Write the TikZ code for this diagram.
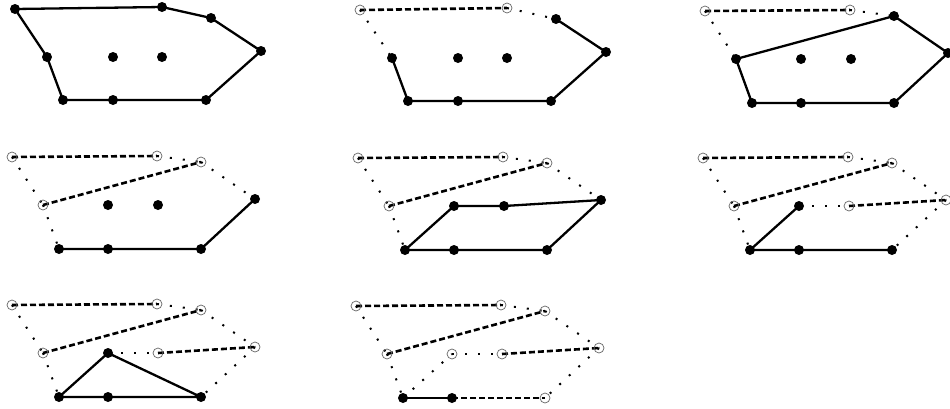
\documentclass[tikz,border=0pt]{standalone}
\begin{document}
\tikzset{
  pt/.style={circle,fill=black,inner sep=0pt,minimum size=10pt},
  opt/.style={circle,draw=black!60,line width=0.7pt,inner sep=0pt,minimum size=10pt},
  hull/.style={line width=2.3pt,line join=round},
  gone/.style={line width=2.6pt,dash pattern=on 6pt off 3pt},
  link/.style={line width=2pt,dash pattern=on 2pt off 11pt},
}
\newcommand\panelpts[4]{%
  \begin{scope}[shift={(#2,#3)}]
  \ifnum#4=1
    \coordinate (#1A) at (0,0);   \coordinate (#1B) at (147,-2);
    \coordinate (#1C) at (196,9); \coordinate (#1D) at (246,42);
    \coordinate (#1E) at (191,91);\coordinate (#1F) at (98,91);
    \coordinate (#1G) at (48,91); \coordinate (#1H) at (32,48);
    \coordinate (#1I) at (98,48); \coordinate (#1J) at (147,48);
  \else
    \coordinate (#1A) at (0,0);   \coordinate (#1B) at (145,-1);
    \coordinate (#1C) at (189,5); \coordinate (#1D) at (243,42);
    \coordinate (#1E) at (189,92);\coordinate (#1F) at (96,92);
    \coordinate (#1G) at (47,92); \coordinate (#1H) at (31,48);
    \coordinate (#1I) at (96,48); \coordinate (#1J) at (146,48);
  \fi
  \end{scope}}
\newcommand\filledpts[2]{\foreach \p in {#2}{\node[pt] (#1\p n) at (#1\p) {};}}
\newcommand\hollowpts[2]{\foreach \p in {#2}{\node[opt] (#1\p n) at (#1\p) {};}}
\begin{tikzpicture}[x=1pt,y=-1pt]
\useasboundingbox (0,0) rectangle (950,408);
\panelpts{a}{15}{9}{1}
\panelpts{b}{360}{10}{1}
\panelpts{c}{705}{11}{2}
\panelpts{d}{12}{157}{2}
\panelpts{e}{358}{158}{2}
\panelpts{f}{703}{158}{2}
\panelpts{g}{12}{305}{2}
\panelpts{h}{356}{306}{2}
% panel 1
\draw[hull] (aA) -- (aB) -- (aC) -- (aD) -- (aE) -- (aF) -- (aG) -- (aH) -- cycle;
\filledpts{a}{A,B,C,D,E,F,G,H,I,J}
% panel 2
\draw[gone] (bA) -- (bB);
\draw[link] (bB) -- (bC);
\draw[link] (bA) -- (bH);
\draw[hull] (bC) -- (bD) -- (bE) -- (bF) -- (bG) -- (bH);
\hollowpts{b}{A,B}
\filledpts{b}{C,D,E,F,G,H,I,J}
% panel 3
\draw[gone] (cA) -- (cB);
\draw[link] (cB) -- (cC);
\draw[link] (cA) -- (cH);
\draw[hull] (cH) -- (cC) -- (cD) -- (cE) -- (cF) -- (cG) -- cycle;
\hollowpts{c}{A,B}
\filledpts{c}{C,D,E,F,G,H,I,J}
% panel 4
\draw[gone] (dA) -- (dB);
\draw[gone] (dH) -- (dC);
\draw[link] (dA) -- (dH);
\draw[link] (dB) -- (dC);
\draw[link] (dH) -- (dG);
\draw[link] (dC) -- (dD);
\draw[hull] (dD) -- (dE) -- (dF) -- (dG);
\hollowpts{d}{A,B,C,H}
\filledpts{d}{D,E,F,G,I,J}
% panel 5
\draw[gone] (eA) -- (eB);
\draw[gone] (eH) -- (eC);
\draw[link] (eA) -- (eH);
\draw[link] (eB) -- (eC);
\draw[link] (eH) -- (eG);
\draw[link] (eC) -- (eD);
\draw[hull] (eG) -- (eI) -- (eJ) -- (eD) -- (eE) -- (eF) -- cycle;
\hollowpts{e}{A,B,C,H}
\filledpts{e}{D,E,F,G,I,J}
% panel 6
\draw[gone] (fA) -- (fB);
\draw[gone] (fH) -- (fC);
\draw[gone] (fJ) -- (fD);
\draw[link] (fA) -- (fH);
\draw[link] (fB) -- (fC);
\draw[link] (fH) -- (fG);
\draw[link] (fC) -- (fD);
\draw[link] (fI) -- (fJ);
\draw[link] (fD) -- (fE);
\draw[hull] (fI) -- (fG) -- (fF) -- (fE);
\hollowpts{f}{A,B,C,H,J,D}
\filledpts{f}{E,F,G,I}
% panel 7
\draw[gone] (gA) -- (gB);
\draw[gone] (gH) -- (gC);
\draw[gone] (gJ) -- (gD);
\draw[link] (gA) -- (gH);
\draw[link] (gB) -- (gC);
\draw[link] (gH) -- (gG);
\draw[link] (gC) -- (gD);
\draw[link] (gI) -- (gJ);
\draw[link] (gD) -- (gE);
\draw[hull] (gG) -- (gI) -- (gE) -- (gF) -- cycle;
\hollowpts{g}{A,B,C,H,J,D}
\filledpts{g}{E,F,G,I}
% panel 8
\draw[gone] (hA) -- (hB);
\draw[gone] (hH) -- (hC);
\draw[gone] (hJ) -- (hD);
\draw[gone] (hF) -- (hE);
\draw[link] (hA) -- (hH);
\draw[link] (hB) -- (hC);
\draw[link] (hH) -- (hG);
\draw[link] (hC) -- (hD);
\draw[link] (hI) -- (hJ);
\draw[link] (hD) -- (hE);
\draw[link] (hG) -- (hI);
\draw[hull] (hG) -- (hF);
\hollowpts{h}{A,B,C,H,J,D,I,E}
\filledpts{h}{F,G}
\end{tikzpicture}
\end{document}
